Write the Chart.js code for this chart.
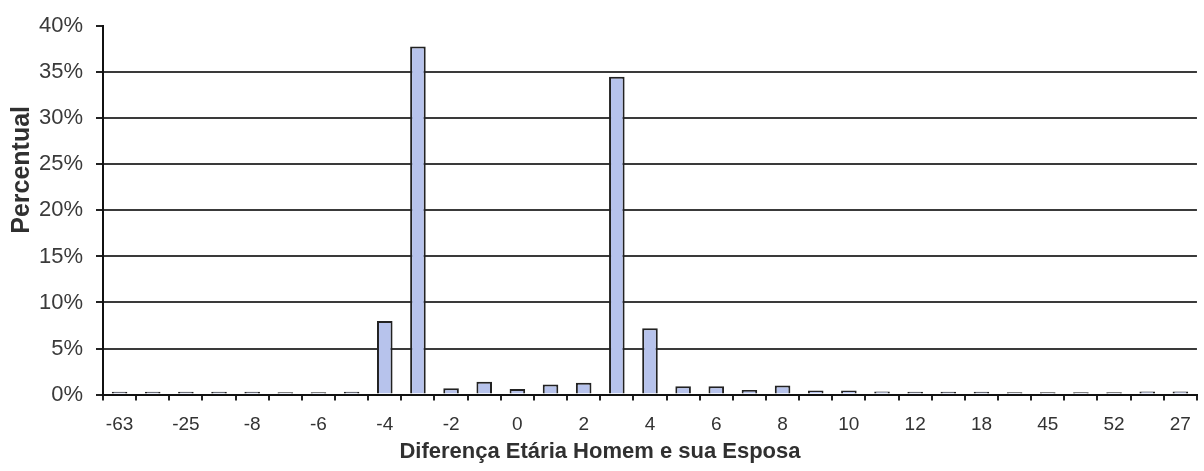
<!DOCTYPE html>
<html>
<head>
<meta charset="utf-8">
<script src="https://cdn.jsdelivr.net/npm/chart.js@4/dist/chart.umd.min.js"></script>
<style>
  html, body { margin: 0; padding: 0; background: #ffffff; }
  #wrap { width: 1204px; height: 471px; }
</style>
</head>
<body>
<div id="wrap"><canvas id="chart" width="1204" height="471"></canvas></div>
<script>
// Age difference between husband and wife (category order as tabulated)
const categories = ['-63', '-30', '-25', '-10', '-8', '-7', '-6', '-5', '-4', '-3',
                    '-2', '-1', '0', '1', '2', '3', '4', '5', '6', '7',
                    '8', '9', '10', '11', '12', '15', '18', '20', '45', '50',
                    '52', '30', '27'];

// Share of couples in each category (%)
const percentValues = [0.3, 0.3, 0.3, 0.3, 0.3, 0.25, 0.25, 0.3, 8.0, 37.8,
                       0.7, 1.4, 0.6, 1.1, 1.3, 34.5, 7.2, 0.9, 0.9, 0.5,
                       1.0, 0.45, 0.45, 0.35, 0.3, 0.3, 0.3, 0.25, 0.25, 0.25,
                       0.25, 0.35, 0.35];

// Value axis ticks (%)
const yTicks = [0, 5, 10, 15, 20, 25, 30, 35, 40];

const xTitle = 'Diferença Etária Homem e sua Esposa';
const yTitle = 'Percentual';

const FONT = "'Liberation Sans', Arial, sans-serif";

// Rotated value-axis caption, drawn a little above the middle of the plot
const yCaption = {
  id: 'yCaption',
  afterDraw(chart, args, opts) {
    const { ctx, chartArea } = chart;
    const y = chartArea.top + opts.pos * (chartArea.bottom - chartArea.top);
    ctx.save();
    ctx.translate(opts.x, y);
    ctx.rotate(-Math.PI / 2);
    ctx.font = opts.font;
    ctx.fillStyle = opts.color;
    ctx.textAlign = 'center';
    ctx.textBaseline = 'middle';
    ctx.fillText(opts.text, 0, 0);
    ctx.restore();
  }
};

new Chart(document.getElementById('chart'), {
  type: 'bar',
  data: {
    labels: categories,
    datasets: [{
      data: percentValues,
      backgroundColor: '#b7c3ec',
      borderColor: '#222222',
      borderWidth: 2,
      barPercentage: 0.47,
      categoryPercentage: 1.0
    }]
  },
  options: {
    responsive: false,
    devicePixelRatio: 1,
    animation: false,
    layout: { padding: { top: 23, right: 4, left: 0, bottom: 0 } },
    plugins: {
      legend: { display: false },
      tooltip: { enabled: false },
      title: {
        display: true,
        position: 'bottom',
        text: xTitle,
        color: '#303030',
        font: { family: FONT, size: 22, weight: 'bold' },
        padding: { top: 0, bottom: 6 }
      },
      yCaption: {
        text: yTitle,
        x: 22,
        pos: 0.39,
        font: "bold 25px 'Liberation Sans', Arial, sans-serif",
        color: '#303030'
      }
    },
    scales: {
      x: {
        offset: true,
        grid: {
          offset: true,
          drawOnChartArea: false,
          drawTicks: true,
          tickLength: 6,
          color: '#222222',
          lineWidth: 2
        },
        border: { display: true, color: '#111111', width: 2 },
        ticks: {
          autoSkip: false,
          maxRotation: 0,
          padding: 13,
          color: '#333333',
          font: { family: FONT, size: 19 },
          callback: (value, index) => (index % 2 === 0 ? categories[index] : '')
        },
        afterFit: (scale) => { scale.height = 44; }
      },
      y: {
        min: 0,
        max: 40,
        afterBuildTicks: (scale) => { scale.ticks = yTicks.map(v => ({ value: v })); },
        grid: {
          drawTicks: true,
          tickLength: 7,
          lineWidth: 2,
          color: (ctx) => (ctx.tick && (ctx.tick.value === 40 || ctx.tick.value === 0) ? 'rgba(0,0,0,0)' : '#3a3a3a'),
          tickColor: '#222222'
        },
        border: { display: true, color: '#111111', width: 2 },
        ticks: {
          padding: 13,
          color: '#3a3a3a',
          font: { family: FONT, size: 22 },
          callback: (v) => v + '%'
        },
        afterFit: (scale) => { scale.width = 103; }
      }
    }
  },
  plugins: [yCaption]
});
</script>
</body>
</html>
